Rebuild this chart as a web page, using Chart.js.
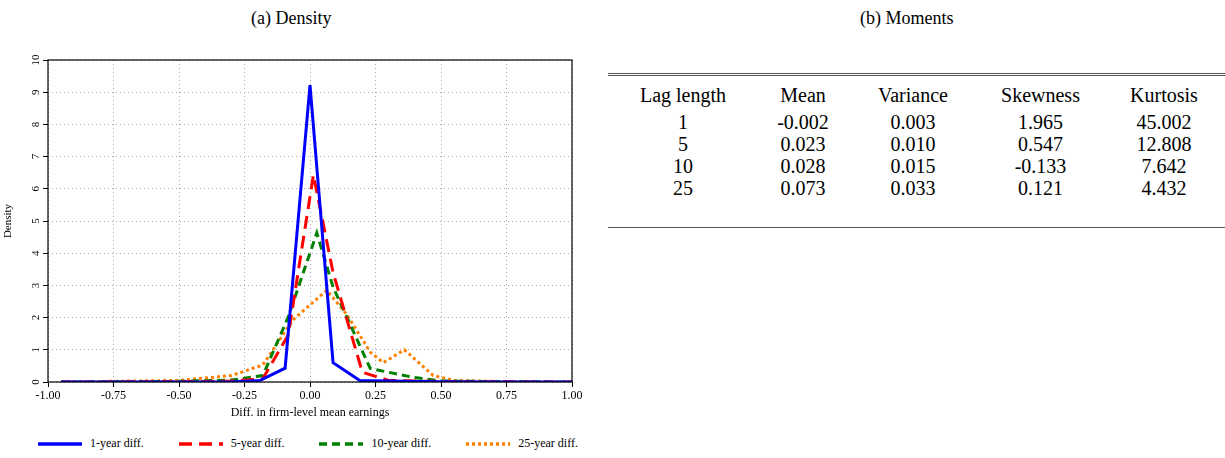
<!DOCTYPE html>
<html><head><meta charset="utf-8">
<script src="https://cdn.jsdelivr.net/npm/chart.js@4"></script>
<style>
body{margin:0;width:1225px;height:458px;background:#fff;font-family:"Liberation Serif",serif;position:relative;overflow:hidden}
.t{position:absolute;top:8px;font-size:18px;color:#000}
#cw{position:absolute;left:0;top:0;width:590px;height:420px}
#leg{position:absolute;top:436px;left:38px;width:540px;font-size:12px;display:flex;justify-content:space-between;align-items:center}
#leg span{display:flex;align-items:center;gap:8px}
table{position:absolute;left:608px;top:73px;width:617px;border-collapse:collapse;font-size:20px;border-top:3px double #555;border-bottom:1.5px solid #555}
td,th{font-weight:normal;text-align:center;padding:0;line-height:22px}
th{line-height:30px;padding-top:4px;padding-bottom:1px}
tr.last td{padding-bottom:28px}
</style></head><body>
<div class="t" style="left:251px">(a) Density</div>
<div class="t" style="left:860px">(b) Moments</div>
<div id="cw"><canvas id="c"></canvas></div>
<div id="leg">
<span><svg width="44" height="6"><line x1="0" y1="3" x2="44" y2="3" stroke="#0000ff" stroke-width="3.5"/></svg>1-year diff.</span>
<span><svg width="44" height="6"><line x1="0" y1="3" x2="44" y2="3" stroke="#ff0000" stroke-width="3.5" stroke-dasharray="13 7"/></svg>5-year diff.</span>
<span><svg width="44" height="6"><line x1="0" y1="3" x2="44" y2="3" stroke="#008000" stroke-width="3.5" stroke-dasharray="8 5"/></svg>10-year diff.</span>
<span><svg width="44" height="6"><line x1="0" y1="3" x2="44" y2="3" stroke="#ff8000" stroke-width="3.5" stroke-dasharray="3 3"/></svg>25-year diff.</span>
</div>
<table>
<colgroup><col style="width:150px"><col style="width:90px"><col style="width:130px"><col style="width:125px"><col style="width:122px"></colgroup>
<tr><th>Lag length</th><th>Mean</th><th>Variance</th><th>Skewness</th><th>Kurtosis</th></tr>
<tbody id="tb"></tbody>
</table>
<script>
const lagLengths=["1","5","10","25"];
const means=["-0.002","0.023","0.028","0.073"];
const variances=["0.003","0.010","0.015","0.033"];
const skews=["1.965","0.547","-0.133","0.121"];
const kurts=["45.002","12.808","7.642","4.432"];

const x1=[-0.95,-0.5,-0.29,-0.19,-0.095,0,0.088,0.19,0.3,0.5,0.75,1.0];
const y1=[0,0,0.01,0.05,0.43,9.22,0.6,0.05,0.03,0.01,0,0];
const x5=[-0.95,-0.5,-0.3,-0.18,-0.083,0.013,0.088,0.2,0.3,0.4,0.6,1.0];
const y5=[0,0.01,0.03,0.1,1.46,6.43,3.4,0.3,0.05,0.03,0.01,0];
const x10=[-0.95,-0.5,-0.3,-0.18,-0.084,0.026,0.088,0.23,0.39,0.5,0.75,1.0];
const y10=[0,0.02,0.06,0.2,2.0,4.63,2.95,0.42,0.15,0.03,0.01,0];
const x25=[-0.95,-0.5,-0.3,-0.18,-0.065,0.064,0.14,0.23,0.28,0.36,0.47,0.55,0.75,1.0];
const y25=[0,0.05,0.2,0.53,1.93,2.85,2.1,0.93,0.6,1.0,0.2,0.05,0.01,0];
const xTicks=[-1,-0.75,-0.5,-0.25,0,0.25,0.5,0.75,1];
const yTicks=[0,1,2,3,4,5,6,7,8,9,10];

const tb=document.getElementById('tb');
lagLengths.forEach((l,i)=>{const tr=document.createElement('tr');if(i==3)tr.className='last';
[l,means[i],variances[i],skews[i],kurts[i]].forEach(v=>{const td=document.createElement('td');td.textContent=v;tr.appendChild(td)});tb.appendChild(tr)});

const pts=(xs,ys)=>xs.map((x,i)=>({x,y:ys[i]}));
const ds=(lab,xs,ys,col,dash)=>({label:lab,data:pts(xs,ys),borderColor:col,borderWidth:3,borderDash:dash,pointRadius:0,fill:false,tension:0});
const rotY={id:'rotY',afterDraw(ch){const c=ch.ctx,s=ch.scales.y;c.save();c.font='11px "Liberation Serif"';c.fillStyle='#000';c.textAlign='center';c.textBaseline='bottom';
yTicks.forEach(v=>{const p=s.getPixelForValue(v);c.save();c.translate(s.right-6,p);c.rotate(-Math.PI/2);c.fillText(String(v),0,0);c.restore()});
c.translate(14,(s.top+s.bottom)/2);c.rotate(-Math.PI/2);c.fillText('Density',0,0);c.restore();
const a=ch.chartArea;c.save();c.strokeStyle='#000';c.lineWidth=1.2;c.strokeRect(a.left,a.top,a.right-a.left,a.bottom-a.top);c.restore();}};
new Chart(document.getElementById('c'),{type:'line',
data:{datasets:[ds('1-year diff.',x1,y1,'#0000ff',[]),ds('5-year diff.',x5,y5,'#ff0000',[13,7]),ds('10-year diff.',x10,y10,'#008000',[8,5]),ds('25-year diff.',x25,y25,'#ff8000',[3,3])]},
options:{responsive:true,maintainAspectRatio:false,animation:false,layout:{padding:{top:60,right:18,left:0,bottom:0}},
plugins:{legend:{display:false},tooltip:{enabled:false}},
scales:{x:{type:'linear',min:-1,max:1,afterBuildTicks:s=>{s.ticks=xTicks.map(v=>({value:v}))},
afterFit:s=>{s.height=38},
ticks:{color:'#000',font:{family:'Liberation Serif',size:12},padding:2,maxRotation:0,callback:v=>v.toFixed(2)},
grid:{color:'#aaa',tickColor:'#000',tickLength:5,drawTicks:true},border:{display:false,dash:[1,3]},
title:{display:true,text:'Diff. in firm-level mean earnings',color:'#000',font:{family:'Liberation Serif',size:12},padding:0}},
y:{min:0,max:10,afterBuildTicks:s=>{s.ticks=yTicks.map(v=>({value:v}))},afterFit:s=>{s.width=48},
ticks:{display:false},grid:{color:'#aaa',tickColor:'#000',tickLength:5},border:{display:false,dash:[1,3]}}}},
plugins:[rotY]});
</script></body></html>
